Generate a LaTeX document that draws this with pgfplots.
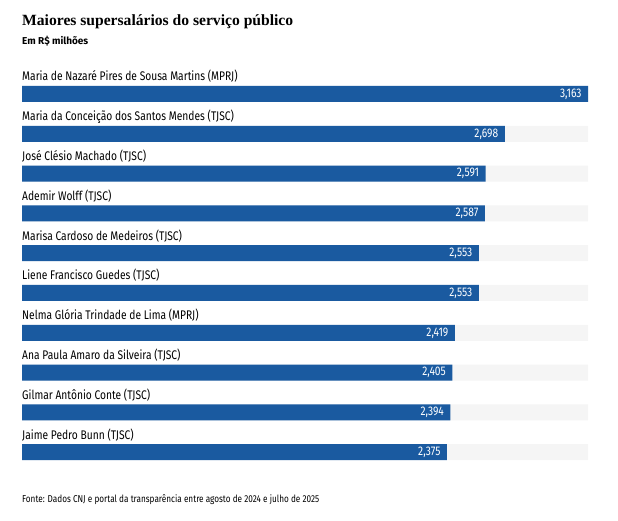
\documentclass[border=0pt]{standalone}
\usepackage{fontspec}
\setmainfont{Fira Sans}[FakeStretch=0.82]
\newfontfamily\plainsans{Fira Sans}
\newfontfamily\titlefont{Liberation Serif}
\usepackage{pgfplots}
\pgfplotsset{compat=1.18}
\definecolor{barblue}{HTML}{1A5AA0}
\definecolor{track}{HTML}{F5F5F5}
\tikzset{lbl/.style={anchor=base west, inner sep=0pt, yshift=13pt, font=\fontsize{12.5}{14}\selectfont}}
\begin{document}
\begin{tikzpicture}
\begin{axis}[
    scale only axis, width=566pt, height=398pt,
    xmin=0, xmax=3.163, ymin=0.5, ymax=10.5,
    y dir=reverse, axis lines=none, clip=false,
    xbar, bar width=16pt, bar shift=0pt,
]
\addplot[fill=track, draw=none] coordinates {
    (3.163,1) (3.163,2) (3.163,3) (3.163,4) (3.163,5)
    (3.163,6) (3.163,7) (3.163,8) (3.163,9) (3.163,10)
};
\addplot[fill=barblue, draw=none,
    nodes near coords,
    nodes near coords style={anchor=east, xshift=-3pt, text=white,
        font=\fontsize{12.5}{14}\selectfont,
        /pgf/number format/.cd, fixed, fixed zerofill, precision=3, use comma, assume math mode=true},
    ] coordinates {
    (3.163,1) (2.698,2) (2.591,3) (2.587,4) (2.553,5)
    (2.553,6) (2.419,7) (2.405,8) (2.394,9) (2.375,10)
};
\node[lbl] at (axis cs:0,1) {Maria de Nazaré Pires de Sousa Martins (MPRJ)};
\node[lbl] at (axis cs:0,2) {Maria da Conceição dos Santos Mendes (TJSC)};
\node[lbl] at (axis cs:0,3) {José Clésio Machado (TJSC)};
\node[lbl] at (axis cs:0,4) {Ademir Wolff (TJSC)};
\node[lbl] at (axis cs:0,5) {Marisa Cardoso de Medeiros (TJSC)};
\node[lbl] at (axis cs:0,6) {Liene Francisco Guedes (TJSC)};
\node[lbl] at (axis cs:0,7) {Nelma Glória Trindade de Lima (MPRJ)};
\node[lbl] at (axis cs:0,8) {Ana Paula Amaro da Silveira (TJSC)};
\node[lbl] at (axis cs:0,9) {Gilmar Antônio Conte (TJSC)};
\node[lbl] at (axis cs:0,10) {Jaime Pedro Bunn (TJSC)};
\coordinate (tl) at (axis cs:0,0.5);
\end{axis}
\pgfresetboundingbox
\begin{scope}[shift={(tl)}, x=1pt, y=1pt]
\path[use as bounding box] (-22,74.1) rectangle (596,-446.9);
\node[anchor=base west, inner sep=0pt, font=\titlefont\bfseries\fontsize{15.6}{18}\selectfont] at (0,48.1) {Maiores supersalários do serviço público};
\node[anchor=base west, inner sep=0pt, font=\plainsans\bfseries\fontsize{10}{12}\selectfont] at (0,29.1) {Em R\$ milhões};
\node[anchor=base west, inner sep=0pt, font=\fontsize{10}{12}\selectfont] at (0,-428.9) {Fonte: Dados CNJ e portal da transparência entre agosto de 2024 e julho de 2025};
\end{scope}
\end{tikzpicture}
\end{document}
